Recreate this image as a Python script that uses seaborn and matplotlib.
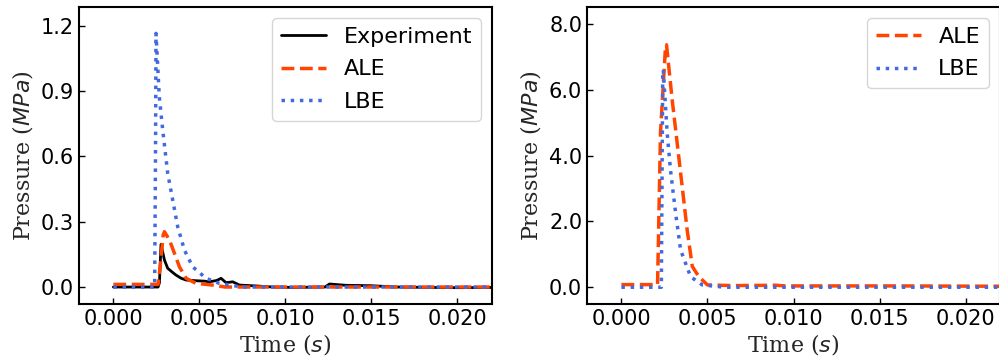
import numpy as np
import pandas as pd
import seaborn as sns
import matplotlib
matplotlib.use("Agg")
from matplotlib import pyplot as plt
from matplotlib.ticker import FormatStrFormatter

# left panel: experiment vs. simulations
exp_t = [0, 0.0026, 0.00268, 0.00277, 0.00297, 0.00316, 0.0034, 0.00364, 0.00395, 0.00423,
         0.0048, 0.0053, 0.00558, 0.006, 0.00626, 0.00655, 0.00694, 0.00733, 0.0083, 0.00926,
         0.0105, 0.0123, 0.01256, 0.0135, 0.015, 0.0165, 0.0185, 0.02, 0.022]
exp_p = [0, 0, 0.02, 0.196, 0.124, 0.086, 0.07, 0.055, 0.04, 0.032,
         0.029, 0.027, 0.024, 0.03, 0.04, 0.02, 0.024, 0.009, 0.005, 0.0,
         -0.002, 0.0, 0.014, 0.008, 0.006, 0.0, -0.002, -0.003, -0.002]

ale_t = [0, 0.0026, 0.00273, 0.0029, 0.00297, 0.00326, 0.00355, 0.00384, 0.00423, 0.0048,
         0.00577, 0.0065, 0.008, 0.022]
ale_p = [0.012, 0.012, 0.1, 0.24, 0.254, 0.216, 0.155, 0.093, 0.04, 0.017,
         0.009, 0.0, 0.0, 0.0]

lbe_t = [0, 0.0024, 0.00245, 0.00248, 0.00267, 0.00287, 0.00316, 0.00345, 0.00374, 0.00413,
         0.00461, 0.00539, 0.00616, 0.0075, 0.022]
lbe_p = [0, 0, 0.6, 1.165, 0.874, 0.721, 0.522, 0.4, 0.277, 0.17,
         0.093, 0.04, 0.017, 0.0, 0.0]

# right panel: simulations only
ale2_t = [0, 0.0021, 0.00227, 0.00256, 0.00262, 0.00295, 0.00324, 0.00353, 0.00382, 0.00412,
          0.0045, 0.005, 0.0065, 0.009, 0.0095, 0.012, 0.016, 0.022]
ale2_p = [0.08, 0.08, 4.7, 7.3, 7.37, 5.69, 4.38, 3.06, 1.74, 0.63,
          0.32, 0.07, 0.05, 0.06, 0.04, 0.04, 0.04, 0.03]

lbe2_t = [0, 0.00232, 0.0024, 0.00243, 0.00266, 0.00285, 0.00315, 0.00344, 0.00402, 0.0047,
          0.006, 0.022]
lbe2_p = [0, 0, 6.6, 6.6, 4.68, 3.57, 2.25, 1.13, 0.32, 0.07,
          0.0, 0.0]

sns.set_style("ticks", {"xtick.direction": "in", "ytick.direction": "in",
                        "axes.edgecolor": "black", "text.color": "black",
                        "xtick.color": "black", "ytick.color": "black"})
plt.rcParams["font.family"] = ["DejaVu Sans"]
plt.rcParams["mathtext.fontset"] = "dejavusans"

fig = plt.figure(figsize=(9.99, 3.63), dpi=100)
ax1 = fig.add_axes([0.079, 0.1625, 0.4134, 0.8175])
ax2 = fig.add_axes([0.5876, 0.1625, 0.4134, 0.8175])

sns.lineplot(x=exp_t, y=exp_p, ax=ax1, color="black", lw=2.0, label="Experiment")
sns.lineplot(x=ale_t, y=ale_p, ax=ax1, color="orangered", lw=2.5, ls="--", label="ALE")
sns.lineplot(x=lbe_t, y=lbe_p, ax=ax1, color="royalblue", lw=2.5, ls=":", label="LBE")

sns.lineplot(x=ale2_t, y=ale2_p, ax=ax2, color="orangered", lw=2.5, ls="--", label="ALE")
sns.lineplot(x=lbe2_t, y=lbe2_p, ax=ax2, color="royalblue", lw=2.5, ls=":", label="LBE")

ax1.set_ylim(-0.078, 1.285)
ax1.set_yticks([0, 0.3, 0.6, 0.9, 1.2])
ax2.set_ylim(-0.51, 8.51)
ax2.set_yticks([0, 2, 4, 6, 8])

for ax in (ax1, ax2):
    ax.set_xlim(-0.002, 0.022)
    ax.set_xticks([0, 0.005, 0.01, 0.015, 0.02])
    ax.xaxis.set_major_formatter(FormatStrFormatter("%.3f"))
    ax.yaxis.set_major_formatter(FormatStrFormatter("%.1f"))
    ax.tick_params(labelsize=15, length=4, width=1)
    for s in ax.spines.values():
        s.set_linewidth(1.5)
    ax.set_xlabel("Time ($s$)", fontsize=16, family="DejaVu Serif", labelpad=2)
    ax.set_ylabel("Pressure ($MPa$)", fontsize=16, family="DejaVu Serif", labelpad=4)
    ax.legend(loc="upper right", fontsize=16, frameon=True, labelspacing=0.55)

fig.savefig("out.png", dpi=100)
